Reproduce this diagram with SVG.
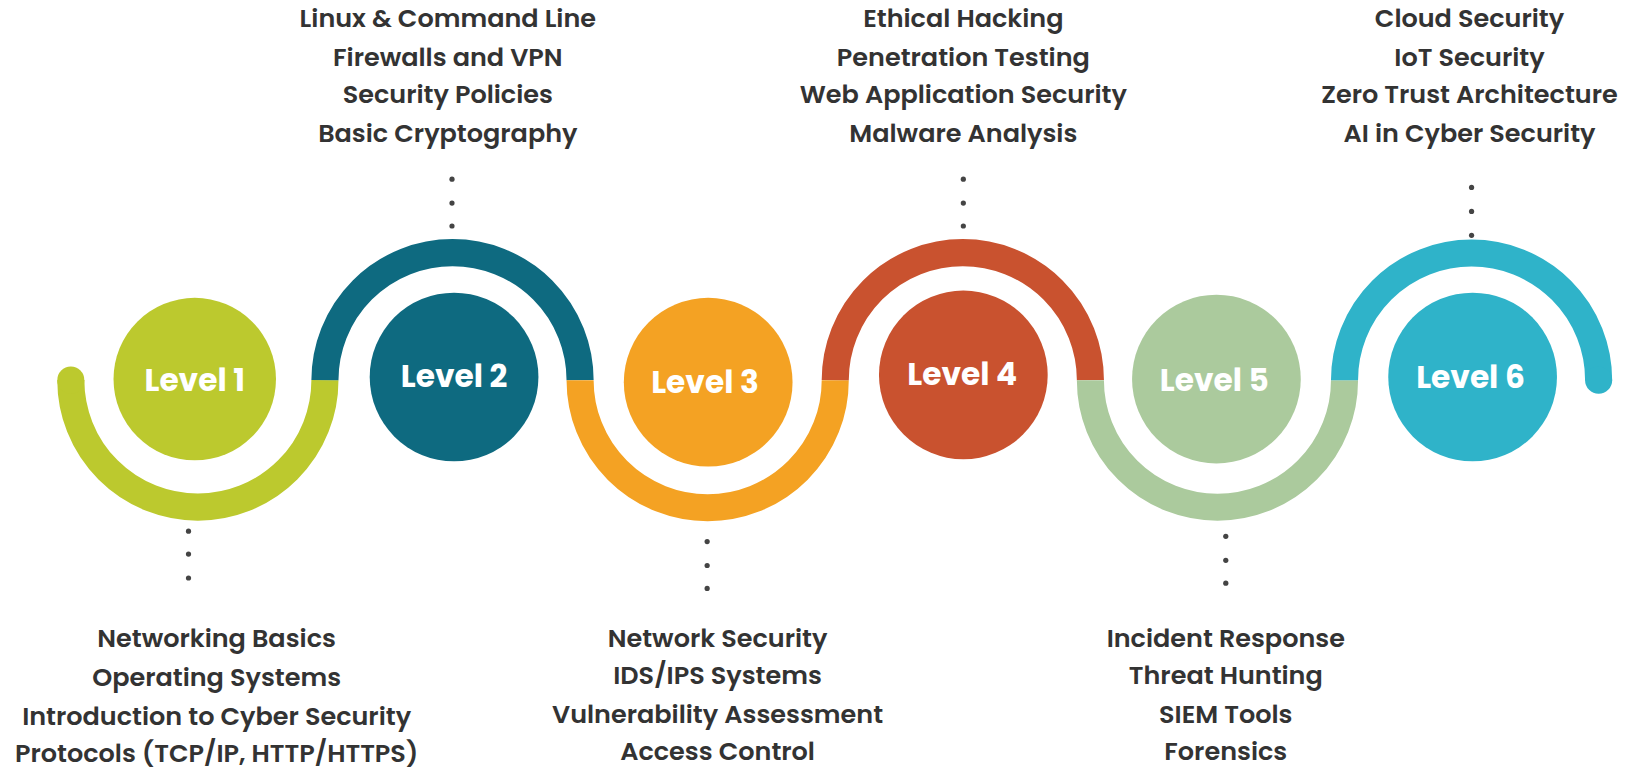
<svg xmlns="http://www.w3.org/2000/svg" width="1633" height="776" viewBox="0 0 1633 776">
<style>
.arc{fill:none;stroke-width:26}
.lbl{font-family:Poppins,"Open Sans","Noto Sans",sans-serif;font-weight:700;font-size:30px;fill:#fff;text-anchor:middle}
.it{font-family:Poppins,"Open Sans","Noto Sans",sans-serif;font-weight:600;font-size:24.5px;fill:#333;text-anchor:middle}
.dot{fill:#444}
</style>
<rect width="1633" height="776" fill="#fff"/>
<g transform="scale(1.04145)">
<g id="connectors">
<path class="arc" stroke="#bcc92e" d="M68,365 A122,122 0 0 0 312,365"/>
<circle cx="68" cy="365" r="13" fill="#bcc92e"/>
<path class="arc" stroke="#0e6a80" d="M312,365 A122,122 0 0 1 557,365"/>
<path class="arc" stroke="#f4a223" d="M557,365 A122,122 0 0 0 802,365"/>
<path class="arc" stroke="#c9522f" d="M802,365 A122,122 0 0 1 1047,365"/>
<path class="arc" stroke="#abca9d" d="M1047,365 A122,122 0 0 0 1291,365"/>
<path class="arc" stroke="#2fb3c9" d="M1291,365 A122,122 0 0 1 1535,365"/>
<circle cx="1535" cy="365" r="13" fill="#2fb3c9"/>
</g>
<g id="level1"><circle cx="187" cy="364" r="78" fill="#bcc92e"/><text class="lbl" x="187" y="375">Level 1</text>
<circle class="dot" cx="181" cy="510" r="2.5"/><circle class="dot" cx="181" cy="532" r="2.5"/><circle class="dot" cx="181" cy="555" r="2.5"/>
<text class="it" x="208" y="621">Networking Basics</text><text class="it" x="208" y="659">Operating Systems</text><text class="it" x="208" y="696">Introduction to Cyber Security</text><text class="it" x="208" y="732">Protocols (TCP/IP, HTTP/HTTPS)</text></g>
<g id="level2"><circle cx="436" cy="362" r="81" fill="#0e6a80"/><text class="lbl" x="436" y="372">Level 2</text>
<circle class="dot" cx="434" cy="172" r="2.5"/><circle class="dot" cx="434" cy="195" r="2.5"/><circle class="dot" cx="434" cy="217" r="2.5"/>
<text class="it" x="430" y="26">Linux &amp; Command Line</text><text class="it" x="430" y="63">Firewalls and VPN</text><text class="it" x="430" y="99">Security Policies</text><text class="it" x="430" y="136">Basic Cryptography</text></g>
<g id="level3"><circle cx="680" cy="367" r="81" fill="#f4a223"/><text class="lbl" x="677" y="377">Level 3</text>
<circle class="dot" cx="679" cy="520" r="2.5"/><circle class="dot" cx="679" cy="543" r="2.5"/><circle class="dot" cx="679" cy="565" r="2.5"/>
<text class="it" x="689" y="621">Network Security</text><text class="it" x="689" y="657">IDS/IPS Systems</text><text class="it" x="689" y="694">Vulnerability Assessment</text><text class="it" x="689" y="730">Access Control</text></g>
<g id="level4"><circle cx="925" cy="360" r="81" fill="#c9522f"/><text class="lbl" x="924" y="370">Level 4</text>
<circle class="dot" cx="925" cy="172" r="2.5"/><circle class="dot" cx="925" cy="195" r="2.5"/><circle class="dot" cx="925" cy="217" r="2.5"/>
<text class="it" x="925" y="26">Ethical Hacking</text><text class="it" x="925" y="63">Penetration Testing</text><text class="it" x="925" y="99">Web Application Security</text><text class="it" x="925" y="136">Malware Analysis</text></g>
<g id="level5"><circle cx="1168" cy="364" r="81" fill="#abca9d"/><text class="lbl" x="1166" y="375">Level 5</text>
<circle class="dot" cx="1177" cy="515" r="2.5"/><circle class="dot" cx="1177" cy="538" r="2.5"/><circle class="dot" cx="1177" cy="560" r="2.5"/>
<text class="it" x="1177" y="621">Incident Response</text><text class="it" x="1177" y="657">Threat Hunting</text><text class="it" x="1177" y="694">SIEM Tools</text><text class="it" x="1177" y="730">Forensics</text></g>
<g id="level6"><circle cx="1414" cy="362" r="81" fill="#2fb3c9"/><text class="lbl" x="1412" y="373">Level 6</text>
<circle class="dot" cx="1413" cy="180" r="2.5"/><circle class="dot" cx="1413" cy="203" r="2.5"/><circle class="dot" cx="1413" cy="226" r="2.5"/>
<text class="it" x="1411" y="26">Cloud Security</text><text class="it" x="1411" y="63">IoT Security</text><text class="it" x="1411" y="99">Zero Trust Architecture</text><text class="it" x="1411" y="136">AI in Cyber Security</text></g>
</g>
</svg>
